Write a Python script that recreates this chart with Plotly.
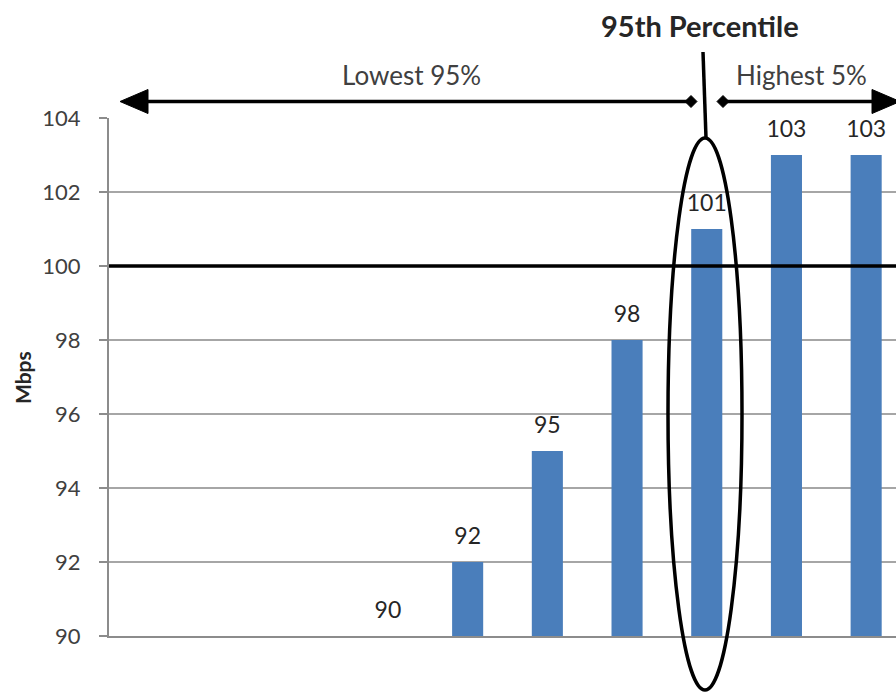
import plotly.graph_objects as go

# ---- data ----
categories = [0, 1, 2, 3, 4, 5, 6, 7, 8, 9]
mbps = [88, 88, 88, 90, 92, 95, 98, 101, 103, 103]
y_ticks = [90, 92, 94, 96, 98, 100, 102, 104]
threshold = 100
labels = [str(v) if v >= y_ticks[0] else "" for v in mbps]

W, H = 896, 693
# plot area on screen: x 109..896, y 118..636
ML, MR, MT, MB = 109, 0, 118, H - 636
PW, PH = W - ML - MR, H - MT - MB


def px(x):
    return (x - ML) / PW


def py(y):
    return (H - MB - y) / PH


FONT = "Lato"
BLUE = "#4a7ebb"
STEP = 79.7  # px per category
x_max = -0.5 + PW / STEP

fig = go.Figure()
fig.add_trace(go.Bar(
    x=categories, y=mbps, width=0.39,
    marker=dict(color=BLUE, line=dict(width=0)),
    showlegend=False, hoverinfo="skip",
))
fig.add_trace(go.Scatter(
    x=categories, y=mbps, mode="markers+text", text=labels,
    textposition="top center",
    textfont=dict(family=FONT, size=23, color="#262626"),
    marker=dict(size=18, color="rgba(0,0,0,0)"),
    showlegend=False, hoverinfo="skip", cliponaxis=True,
))

shapes = []
# threshold line
shapes.append(dict(type="line", xref="paper", yref="y", x0=0, x1=1,
                   y0=threshold, y1=threshold, line=dict(color="black", width=3.5)))
# ellipse around 95th percentile
shapes.append(dict(type="circle", xref="paper", yref="paper",
                   x0=px(668), x1=px(742), y0=py(690), y1=py(138),
                   line=dict(color="black", width=3.5)))
# vertical pointer
shapes.append(dict(type="line", xref="paper", yref="paper",
                   x0=px(703), x1=px(706), y0=py(52), y1=py(138),
                   line=dict(color="black", width=3.5)))
ay = 101.5
# left arrow
shapes.append(dict(type="line", xref="paper", yref="paper",
                   x0=px(140), x1=px(692), y0=py(ay), y1=py(ay),
                   line=dict(color="black", width=3.5)))
shapes.append(dict(type="path", xref="paper", yref="paper",
                   path=f"M{px(120)},{py(ay)} L{px(148)},{py(ay-12)} L{px(148)},{py(ay+12)} Z",
                   fillcolor="black", line=dict(color="black", width=1)))
# right arrow
shapes.append(dict(type="line", xref="paper", yref="paper",
                   x0=px(722), x1=px(880), y0=py(ay), y1=py(ay),
                   line=dict(color="black", width=3.5)))
shapes.append(dict(type="path", xref="paper", yref="paper",
                   path=f"M{px(900)},{py(ay)} L{px(872)},{py(ay-12)} L{px(872)},{py(ay+12)} Z",
                   fillcolor="black", line=dict(color="black", width=1)))
# diamonds
for cx in (691, 723):
    shapes.append(dict(type="path", xref="paper", yref="paper",
                       path=(f"M{px(cx-6)},{py(ay)} L{px(cx)},{py(ay-6)} "
                             f"L{px(cx+6)},{py(ay)} L{px(cx)},{py(ay+6)} Z"),
                       fillcolor="black", line=dict(color="black", width=1)))

annotations = [
    dict(text="<b>95th Percentile</b>", x=px(700), y=py(25),
         font=dict(family=FONT, size=29, color="#262626")),
    dict(text="Lowest 95%", x=px(411), y=py(75),
         font=dict(family=FONT, size=26, color="#404040")),
    dict(text="Highest 5%", x=px(801), y=py(75),
         font=dict(family=FONT, size=26, color="#404040")),
    dict(text="<b>Mbps</b>", x=px(22), y=py(378), textangle=-90,
         font=dict(family=FONT, size=21, color="#262626")),
]
for a in annotations:
    a.update(xref="paper", yref="paper", showarrow=False,
             xanchor="center", yanchor="middle")

fig.update_layout(
    width=W, height=H,
    margin=dict(l=ML, r=MR, t=MT, b=MB),
    paper_bgcolor="white", plot_bgcolor="white",
    shapes=shapes, annotations=annotations,
    xaxis=dict(range=[-0.5, x_max], showticklabels=False, showgrid=False,
               showline=True, linecolor="#8c8c8c", linewidth=2, ticks="", zeroline=False),
    yaxis=dict(range=[90, 104], tickvals=y_ticks, showgrid=True, gridcolor="#a6a6a6",
               gridwidth=2, showline=True, linecolor="#8c8c8c", linewidth=2,
               ticks="outside", ticklen=8, tickwidth=2, tickcolor="#8c8c8c",
               ticklabelstandoff=14, zeroline=False,
               tickfont=dict(family=FONT, size=22, color="#404040")),
    bargap=0.61,
)

fig.write_html(
    "out.html",
    config={"displayModeBar": False},
    post_script="document.body.style.margin='0';document.body.style.overflow='hidden';",
)
